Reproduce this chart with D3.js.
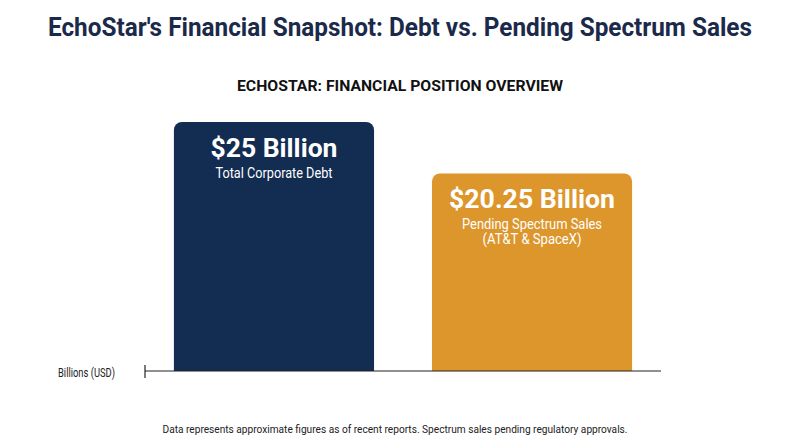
<!DOCTYPE html>
<html>
<head>
<meta charset="utf-8">
<script src="https://cdn.jsdelivr.net/npm/d3@7"></script>
<style>
  html, body { margin: 0; padding: 0; background: #ffffff; }
  svg { display: block; font-family: Roboto, "Noto Sans", sans-serif; }
</style>
</head>
<body>
<svg id="chart" width="800" height="447"></svg>
<script>
// ---- data ----
const categories = ["Total Corporate Debt", "Pending Spectrum Sales"];
const values = [25, 20.25];
const valueLabels = ["$25 Billion", "$20.25 Billion"];
const descLines = [["Total Corporate Debt"], ["Pending Spectrum Sales", "(AT&T & SpaceX)"]];
const colors = ["#132c52", "#dc962c"];
const yLabel = "Billions (USD)";
const title = "EchoStar's Financial Snapshot: Debt vs. Pending Spectrum Sales";
const subtitle = "ECHOSTAR: FINANCIAL POSITION OVERVIEW";
const footnote = "Data represents approximate figures as of recent reports. Spectrum sales pending regulatory approvals.";

const svg = d3.select("#chart");

// ---- titles ----
svg.append("text")
  .attr("x", 400).attr("y", 36)
  .attr("text-anchor", "middle")
  .attr("font-size", 25).attr("font-weight", 700)
  .attr("fill", "#1b2a4a")
  .attr("textLength", 704).attr("lengthAdjust", "spacingAndGlyphs")
  .text(title);

svg.append("text")
  .attr("x", 400).attr("y", 91)
  .attr("text-anchor", "middle")
  .attr("font-size", 15.5).attr("font-weight", 700)
  .attr("fill", "#111111")
  .attr("textLength", 326).attr("lengthAdjust", "spacingAndGlyphs")
  .text(subtitle);

// ---- scales ----
const baseY = 371;
const x = d3.scaleBand().domain(categories).range([145, 661]).paddingInner(0.2244).paddingOuter(0.112);
const y = d3.scaleLinear().domain([2, 25]).range([baseY, 122]);

const r = 8;
function topRounded(x0, y0, w, h) {
  const p = d3.path();
  p.moveTo(x0, y0 + h);
  p.lineTo(x0, y0 + r);
  p.arcTo(x0, y0, x0 + r, y0, r);
  p.lineTo(x0 + w - r, y0);
  p.arcTo(x0 + w, y0, x0 + w, y0 + r, r);
  p.lineTo(x0 + w, y0 + h);
  p.closePath();
  return p.toString();
}

const bars = svg.append("g");
categories.forEach((c, i) => {
  const x0 = x(c), w = x.bandwidth(), top = y(values[i]);
  bars.append("path")
    .attr("d", topRounded(x0, top, w, baseY - top))
    .attr("fill", colors[i]);
  const cx = x0 + w / 2;
  bars.append("text")
    .attr("x", cx).attr("y", top + 35)
    .attr("text-anchor", "middle")
    .attr("font-size", 26).attr("font-weight", 700)
    .attr("fill", "#ffffff")
    .attr("textLength", i === 0 ? 127 : 166).attr("lengthAdjust", "spacingAndGlyphs")
    .text(valueLabels[i]);
  descLines[i].forEach((line, j) => {
    const widths = i === 0 ? [117] : [140, 99];
    bars.append("text")
      .attr("x", cx).attr("y", top + 56 + j * 15)
      .attr("text-anchor", "middle")
      .attr("font-size", 14).attr("font-weight", 400)
      .attr("fill", "#ffffff")
      .attr("textLength", widths[j]).attr("lengthAdjust", "spacingAndGlyphs")
      .text(line);
  });
});

// ---- axis ----
svg.append("line")
  .attr("x1", 145).attr("x2", 661).attr("y1", baseY).attr("y2", baseY)
  .attr("stroke", "#222").attr("stroke-width", 1.2);
svg.append("line")
  .attr("x1", 145).attr("x2", 145).attr("y1", baseY - 6).attr("y2", baseY + 7)
  .attr("stroke", "#222").attr("stroke-width", 1.2);
svg.append("text")
  .attr("x", 115).attr("y", 377)
  .attr("text-anchor", "end")
  .attr("font-size", 12.5).attr("fill", "#222")
  .attr("textLength", 57).attr("lengthAdjust", "spacingAndGlyphs")
  .text(yLabel);

// ---- footnote ----
svg.append("text")
  .attr("x", 395).attr("y", 433)
  .attr("text-anchor", "middle")
  .attr("font-size", 11.5).attr("fill", "#222")
  .attr("textLength", 465).attr("lengthAdjust", "spacingAndGlyphs")
  .text(footnote);
</script>
</body>
</html>
